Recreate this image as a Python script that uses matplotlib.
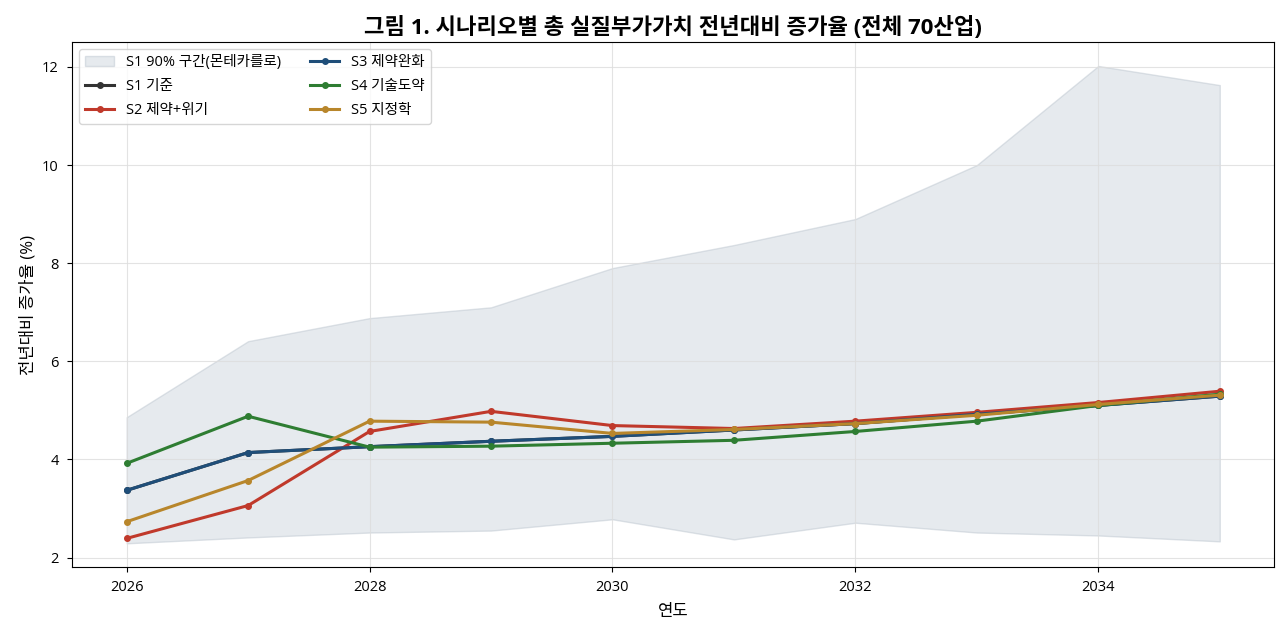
import numpy as np
import matplotlib.pyplot as plt

plt.rcParams['font.family'] = ['Open Sans', 'Noto Sans CJK KR', 'DejaVu Sans']

years = np.arange(2026, 2036)

band_lo = [2.29, 2.41, 2.51, 2.55, 2.78, 2.37, 2.71, 2.51, 2.45, 2.33]
band_hi = [4.86, 6.41, 6.88, 7.10, 7.90, 8.37, 8.90, 10.0, 12.02, 11.63]

s1 = [3.37, 4.14, 4.26, 4.37, 4.47, 4.60, 4.73, 4.92, 5.10, 5.29]
s2 = [2.39, 3.06, 4.57, 4.98, 4.69, 4.63, 4.78, 4.96, 5.16, 5.39]
s3 = [3.37, 4.14, 4.26, 4.37, 4.47, 4.60, 4.73, 4.92, 5.10, 5.29]
s4 = [3.92, 4.88, 4.25, 4.27, 4.33, 4.39, 4.57, 4.78, 5.10, 5.33]
s5 = [2.73, 3.57, 4.78, 4.76, 4.53, 4.61, 4.73, 4.90, 5.12, 5.31]

fig, ax = plt.subplots(figsize=(12.86, 6.38), dpi=100)

ax.fill_between(years, band_lo, band_hi, color='#c9d1da', alpha=0.45,
                edgecolor='#b8c2cc', linewidth=1, label='S1 90% 구간(몬테카를로)')

ax.plot(years, s1, '-o', color='#333333', lw=2.2, ms=4, label='S1 기준')
ax.plot(years, s2, '-o', color='#c0392b', lw=2.2, ms=4, label='S2 제약+위기')
ax.plot(years, s3, '-o', color='#1f4e79', lw=2.2, ms=4, label='S3 제약완화')
ax.plot(years, s4, '-o', color='#2e7d32', lw=2.2, ms=4, label='S4 기술도약')
ax.plot(years, s5, '-o', color='#b8862b', lw=2.2, ms=4, label='S5 지정학')

ax.set_xticks(range(2026, 2035, 2))
ax.set_yticks(range(2, 13, 2))
ax.tick_params(labelsize=10.5, pad=6)
ax.grid(True, color='#dddddd', alpha=0.8)
ax.set_xlabel('연도', fontsize=12, labelpad=6)
ax.set_ylabel('전년대비 증가율 (%)', fontsize=12)
ax.set_title('그림 1. 시나리오별 총 실질부가가치 전년대비 증가율 (전체 70산업)',
             fontsize=16, fontweight='bold')
ax.legend(loc='upper left', ncol=2, fontsize=10.5, labelspacing=0.6)

plt.subplots_adjust(left=0.056, right=0.991, top=0.934, bottom=0.111)
plt.savefig('out.png')
